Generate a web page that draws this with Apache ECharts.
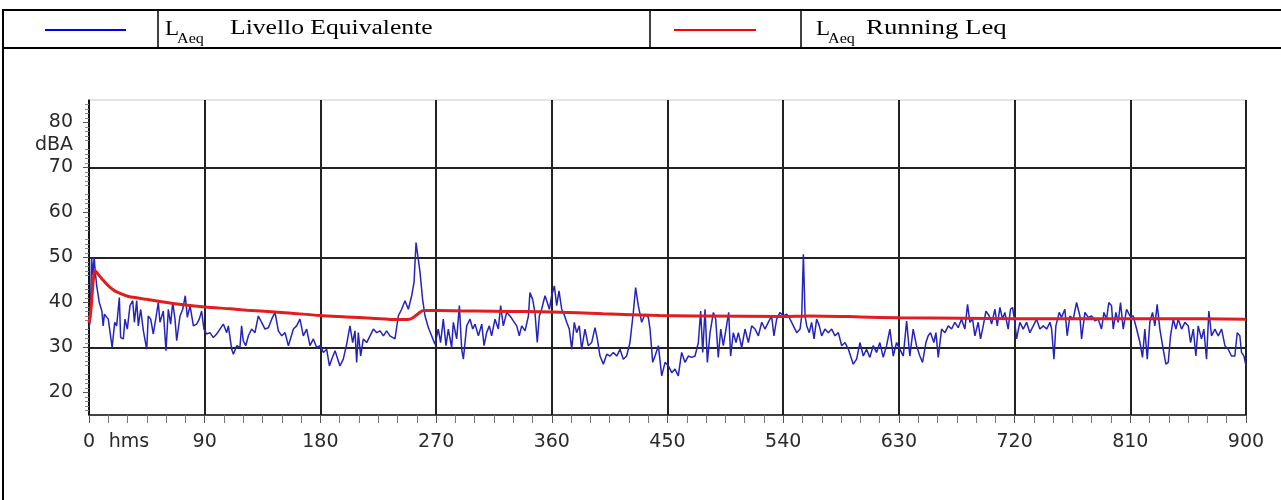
<!DOCTYPE html>
<html><head><meta charset="utf-8">
<script src="https://cdn.jsdelivr.net/npm/echarts@6/dist/echarts.min.js"></script>
<style>html,body{margin:0;padding:0;background:#fff}#c{width:1281px;height:500px}</style>
</head><body><div id="c"></div>
<script>
// ---- data ----
const xTickLabels = [0, 90, 180, 270, 360, 450, 540, 630, 720, 810, 900];
const yTickLabels = [20, 30, 40, 50, 60, 70, 80];

// L_Aeq Livello Equivalente (s, dBA)
const blueTime = [0,1,2,3,4,5,6,8,10,11,12,15,18,20,21.5,23.6,24.6,26.7,28,29.8,31.9,34,35.3,37.1,38.4,40.2,42.3,44.9,46.1,48,50,52.1,53.9,55.2,57.8,59.9,61.7,63.5,65.1,66.9,68.2,70.8,72.9,74.9,76.5,78.6,81.2,83.7,85.8,87.6,89.4,91.5,94.1,96.7,99.3,101.9,104.5,107.1,108.4,111,112.3,114.9,117.4,118.7,120,121.9,124,126.5,129.1,131.7,134.3,136.9,139.5,142.1,144.7,147.3,149.9,152.5,155.1,159,161.5,164.1,166.7,169.3,171.9,174.5,177.1,179.7,182.3,184.9,187,188.8,191.4,192.7,195.2,197.8,200.4,203,205.1,206.9,208.2,209.5,211.3,213.4,216,218.6,221.2,223.8,226.4,229,231.5,234.1,238,240.6,243.2,245.8,248.4,251,252.8,254.4,255.7,257.5,259.5,261.4,264,266.5,269.1,271.7,273.5,275.6,277.7,279.5,282.1,283.4,286,288.1,289.9,291.2,293.8,296.4,298.5,300.3,302.9,305.5,307.3,309.3,311.4,313.2,315.8,318.4,320.2,322.3,324.9,327.5,330.1,332.7,334.7,336.6,339.2,341.8,343,345.1,346.9,348.7,350.3,352.1,354.7,356.5,358.1,359.9,362,363.8,365.6,367.7,369.5,371.6,373.6,375.5,377.5,379.3,381.4,383.2,385.8,388.4,391,393.6,395.4,397.5,400.1,402.7,405.3,407.9,410.5,413.1,415.6,418.2,420.8,423.4,425.2,427.3,429.9,432.5,435.1,436.4,438.5,440.3,442.9,445.5,448.1,450.7,453.3,455.8,458.4,461,463.6,466.2,468.8,471.4,474,475.8,477.4,479.2,481,483.1,485.7,487.5,489.5,491.4,493.4,495.5,497.6,499.1,501.2,503.3,505.1,507.7,510.3,512.9,515.5,518.1,520.7,523.3,525.8,528.4,531,532.8,534.9,537.5,540.1,542.7,545.3,547.9,550.5,553.1,554.4,555.7,557,558.3,560.3,562.1,564,566,568.1,569.9,572.5,575.1,577.7,580.3,582.9,585.5,588.1,590.7,594.5,597.1,599.7,602.3,604.8,607.4,610,612.6,615.2,617.8,620.4,623,625.6,628.2,630.8,633.4,636,638.5,641.1,643.7,646.3,648.4,651,652.8,654.6,657.2,658.8,660.6,663.2,665.8,668.4,671,673.5,676.1,678.7,681.3,683.4,685.2,687.3,689.1,691.7,693.5,695.6,697.7,700.3,702.1,704.7,706.5,708.6,710.6,712.4,715,716.8,718.4,720.2,721.5,724.1,726.7,729.3,731.9,734.5,737.1,739.7,742.3,744.9,747.5,748.8,750.6,752.1,754.7,756.5,759.1,760.9,763,765.6,768.2,770.8,772.1,774.7,777.3,779.9,782.5,785.1,787.6,789.5,791.5,793.3,795.4,796.7,798.8,800.6,802.4,804.5,807.1,809.7,812.3,814.9,817.5,819.5,821.3,823.2,825.2,827.3,829.1,830.9,833,835.6,837.7,839.5,841.3,843.4,845.5,847.3,849.9,852.5,855.1,856.9,859,861,862.8,865.4,867.2,869.3,871.1,873.2,875.8,878.4,881,883.6,886.2,888.7,891.3,893.2,895.2,896.5,898.4,900];
const blueLevel = [34.4,36,50,46,50,46.5,43.7,40,38.1,34.8,37.4,36.3,30,35.6,34.8,41.1,32.2,31.9,36.3,34.1,39.3,40.4,35.6,40.4,34.8,38.5,33.7,29.6,37,36.3,33,36.7,40,35.6,38.1,29.3,38.5,35.2,40,36.3,31.5,37,38.5,41.5,36.7,39.3,34.8,35.2,36.3,38.1,34.1,33,33.3,32.2,33,34.1,35.2,33.3,34.8,29.6,28.5,30.4,30,34.8,31.5,30.4,32.6,34.1,33.3,37,35.6,34.1,34.4,36.3,37.8,33.7,32.6,33.3,30.4,34.1,34.8,36.3,32.6,34.1,30.4,31.9,30,30.4,28.9,29.6,25.9,27.4,29.3,28.1,25.9,27.4,30.7,34.8,31.1,33.7,26.7,33.3,28.1,31.9,31.1,32.6,34.1,33.3,33.7,32.6,33.7,32.6,31.9,37,38.5,40.4,38.5,41.5,44.4,53.3,53,46.7,40.7,37,34.4,32.6,30.7,34.1,31.1,36.3,30.4,34.1,30,35.6,31.9,39.3,29.6,27.4,34.8,36.3,34.1,35.2,32.6,35.2,30.4,33.3,34.8,32.6,36.3,34.1,39.3,34.8,37.8,37,35.9,34.8,32.6,34.8,33.7,37,42.2,40.7,37.8,31.1,37,38.5,41.5,40,38.5,41.5,43.7,39.3,42.6,38.5,37.4,35.6,34.1,29.6,35.6,33.3,34.8,29.6,34.1,30.4,31.1,34.4,31.9,28.1,26.3,28.5,28.1,28.9,28.1,29.6,27.4,28.1,31.1,37.8,43.3,39.3,35.6,37.4,36.7,34.1,26.7,28.1,30.4,23.7,26.7,25.9,24.4,25.2,23.7,28.9,26.7,28.1,27.8,28.1,31.1,38.1,28.9,38.5,26.7,33.3,37.8,36.3,27.8,34.1,30.4,34.1,37.8,28.1,33.3,31.1,33.3,30,34.1,31.1,34.8,34.1,32.6,35.6,34.1,35.6,37,32.6,36.3,37.8,37,37.4,36.3,34.8,33.3,34.1,37,50.7,37,34.8,33.3,35.6,31.9,36.3,34.8,32.6,34.1,33.3,34.1,32.6,33.3,30.4,31.1,29.6,26.3,27.4,31.1,28.1,29.6,27.8,30.4,28.9,31.1,27.8,30.4,34.1,28.1,31.1,29.6,28.1,35.9,28.1,34.1,30.4,28.1,26.7,31.1,32.6,33.3,31.1,33.3,27.8,34.1,33.3,34.8,34.1,35.6,34.4,36.3,34.1,39.6,35.6,36.3,32.6,35.6,31.9,34.8,38.1,37,35.2,38.5,34.8,38.9,36.3,37.8,34.1,38.5,38.9,35.6,31.9,35.6,34.1,35.6,33.3,34.8,36.3,34.1,34.8,34.1,35.6,34.1,27.4,34.8,37.8,36.7,38.5,32.6,37,36.3,40,37,31.9,37.8,36.7,37,35.9,36.3,34.1,37.8,36.3,40,39.3,34.1,37.8,35.6,40,34.1,38.5,37,37,34.1,31.1,27.8,34.1,27.4,35.6,37.8,34.8,39.6,34.1,29.6,26.3,26.7,32.6,36.3,34.1,36.3,34.1,35.6,34.8,31.1,34.1,28.1,34.8,31.9,34.1,27.4,38.1,32.6,34.1,32.6,34.1,30.4,29.6,28.1,28.1,33.3,32.6,28.9,28.1,25.9];

// L_Aeq Running Leq (s, dBA)
const redTime  = [0,1,2,3,4,5,7,10,14,18,22,30,38,45,55,70,90,110,123,150,180,200,220,240,248,252,256,260,270,300,330,360,400,444,480,540,560,600,630,680,720,780,840,900];
const redLevel = [35.5,37,40,44,46.5,47,46.3,45.3,44,43,42.3,41.4,41,40.7,40.2,39.6,39,38.6,38.3,37.8,37.1,36.8,36.5,36.2,36.2,36.6,37.5,38.2,38.2,38.1,38,37.9,37.5,37.1,37,36.9,37,36.8,36.6,36.5,36.4,36.4,36.4,36.3];

const seriesNames = ['L_Aeq Livello Equivalente', 'L_Aeq Running Leq'];

// ---- chart ----
const chart = echarts.init(document.getElementById('c'), null, {renderer: 'canvas'});
const labelFont = 'DejaVu Sans, Liberation Sans, Arial, sans-serif';
const serif = 'Liberation Serif, Times New Roman, serif';

const opt = {
  animation: false,
  backgroundColor: '#fff',
  grid: {left: 89, right: 35, top: 100, bottom: 85, show: true, borderColor: '#c8c8c8', borderWidth: 1},
  xAxis: {
    type: 'value', min: xTickLabels[0], max: xTickLabels[xTickLabels.length - 1], interval: 90,
    axisLine: {show: true, onZero: false, lineStyle: {color: '#111', width: 1.5}},
    axisTick: {show: true, length: 8, lineStyle: {color: '#555', width: 1}},
    minorTick: {show: true, splitNumber: 6, length: 8, lineStyle: {color: '#777', width: 1}},
    axisLabel: {fontFamily: labelFont, fontSize: 19, color: '#2a2a2a', margin: 18,
      formatter: v => xTickLabels.indexOf(v) >= 0 ? String(v) : ''},
    splitLine: {show: true, lineStyle: {color: '#222', width: 2}}
  },
  yAxis: {
    type: 'value', min: 15, max: 85, interval: 5,
    axisLine: {show: true, onZero: false, lineStyle: {color: '#111', width: 1.5}},
    axisTick: {show: true, length: 6, customValues: yTickLabels, lineStyle: {color: '#555'}},
    minorTick: {show: true, splitNumber: 5, length: 4, lineStyle: {color: '#888'}},
    axisLabel: {fontFamily: labelFont, fontSize: 19, color: '#2a2a2a', margin: 16, customValues: yTickLabels,
      formatter: v => yTickLabels.indexOf(v) >= 0 ? String(v) : ''},
    splitLine: {show: true, lineStyle: {color: ['rgba(0,0,0,0)', '#222'], width: 2}}
  },
  series: [
    {name: seriesNames[0], type: 'line', showSymbol: false, symbol: 'none', z: 3,
      data: blueTime.map((t, i) => [t, blueLevel[i]]),
      lineStyle: {color: '#2424bc', width: 1.5}},
    {name: seriesNames[1], type: 'line', showSymbol: false, symbol: 'none', z: 4, smooth: 0.3,
      data: redTime.map((t, i) => [t, redLevel[i]]),
      lineStyle: {color: '#e01e1e', width: 3}}
  ],
  graphic: [
    // table frame
    {type: 'line', shape: {x1: 3, y1: 10, x2: 1281, y2: 10}, style: {stroke: '#000', lineWidth: 2}},
    {type: 'line', shape: {x1: 3, y1: 48, x2: 1281, y2: 48}, style: {stroke: '#000', lineWidth: 2}},
    {type: 'line', shape: {x1: 3, y1: 9, x2: 3, y2: 500}, style: {stroke: '#000', lineWidth: 2}},
    {type: 'line', shape: {x1: 158, y1: 10, x2: 158, y2: 48}, style: {stroke: '#000', lineWidth: 1.5}},
    {type: 'line', shape: {x1: 650, y1: 10, x2: 650, y2: 48}, style: {stroke: '#000', lineWidth: 1.5}},
    {type: 'line', shape: {x1: 801, y1: 10, x2: 801, y2: 48}, style: {stroke: '#000', lineWidth: 1.5}},
    // legend keys
    {type: 'line', shape: {x1: 45, y1: 30, x2: 126, y2: 30}, style: {stroke: '#0000ff', lineWidth: 2}},
    {type: 'line', shape: {x1: 674, y1: 30, x2: 756, y2: 30}, style: {stroke: '#ff0000', lineWidth: 2}},
    // legend texts
    {type: 'text', x: 165, y: 30, scaleX: 1.15, style: {text: 'L', font: '20px ' + serif, fill: '#000', verticalAlign: 'middle'}},
    {type: 'text', x: 177, y: 39, scaleX: 1.15, style: {text: 'Aeq', font: '14px ' + serif, fill: '#000', verticalAlign: 'middle'}},
    {type: 'text', x: 230, y: 29, scaleX: 1.28, style: {text: 'Livello Equivalente', font: '20px ' + serif, fill: '#000', verticalAlign: 'middle'}},
    {type: 'text', x: 816, y: 30, scaleX: 1.15, style: {text: 'L', font: '20px ' + serif, fill: '#000', verticalAlign: 'middle'}},
    {type: 'text', x: 828, y: 39, scaleX: 1.15, style: {text: 'Aeq', font: '14px ' + serif, fill: '#000', verticalAlign: 'middle'}},
    {type: 'text', x: 866, y: 29, scaleX: 1.34, style: {text: 'Running Leq', font: '20px ' + serif, fill: '#000', verticalAlign: 'middle'}},
    // axis names
    {type: 'text', x: 73, y: 145, style: {text: 'dBA', font: '19px ' + labelFont, fill: '#2a2a2a', align: 'right', verticalAlign: 'middle'}},
    {type: 'text', x: 129, y: 442, style: {text: 'hms', font: '19px ' + labelFont, fill: '#2a2a2a', align: 'center', verticalAlign: 'middle'}}
  ]
};
chart.setOption(opt);
</script></body></html>
